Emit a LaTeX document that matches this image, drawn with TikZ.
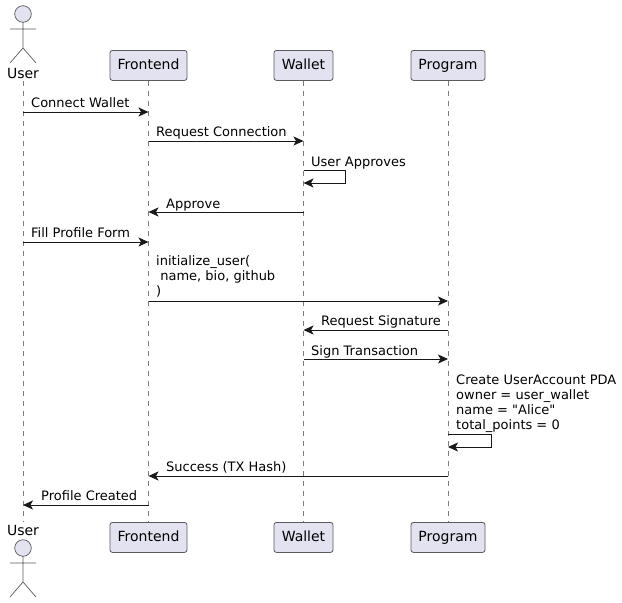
\documentclass[tikz,border=0pt]{standalone}
\usepackage{fontspec}
\setmainfont[Ligatures=TeXOff]{DejaVu Sans}
\usetikzlibrary{arrows.meta, positioning, calc, backgrounds}
\definecolor{seqFill}{HTML}{E2E2F0}
\definecolor{seqLine}{HTML}{181818}
\definecolor{seqEdge}{HTML}{5A5A60}

\begin{document}
\begin{tikzpicture}[
  x=1pt, y=-1pt, font=\fontsize{13}{15}\selectfont, text=black,
  part/.style={draw=seqEdge, line width=0.8pt, fill=seqFill, rounded corners=2.5pt, minimum height=30pt,
               inner sep=0pt, anchor=north, align=center, text height=8.5pt, text depth=1pt,
               font=\fontsize{14}{16}\selectfont},
  who/.style={inner sep=0pt, text height=10pt, text depth=0pt, anchor=base,
              font=\fontsize{14}{16}\selectfont},
  life/.style={draw=seqEdge!80, line width=0.5pt, dash pattern=on 5pt off 5pt},
  arr/.style={-{Stealth[length=10pt,width=9pt,inset=2.5pt]}, draw=seqLine, line width=0.9pt},
  lbl/.style={inner sep=0pt, anchor=base west, align=left},
  actor/.pic={
    \draw[draw=seqEdge, fill=seqFill, line width=0.7pt] (0,0) circle (8.3pt);
    \draw[draw=seqEdge, line width=0.7pt] (0,8) -- (0,34) (-13,15) -- (13,15)
      (-13,49) -- (0,34) -- (13,49);
  },
]
\useasboundingbox (0,0) rectangle (622,603);

% participants
\node[who] (user) at (23,78) {User};
\node[part, minimum width=77pt] (front) at (148.5,50) {Frontend};
\node[part, minimum width=59pt] (wallet) at (303.5,50) {Wallet};
\node[part, minimum width=74pt] (program) at (448,50) {Program};
\node[who] (userB) at (23,535) {User};
\node[part, minimum width=77pt] (frontB) at (148.5,522) {Frontend};
\node[part, minimum width=59pt] (walletB) at (303.5,522) {Wallet};
\node[part, minimum width=74pt] (programB) at (448,522) {Program};
\pic at (23,14) {actor};
\pic at (23,548) {actor};

\begin{scope}[on background layer]
\draw[life] ($(user.south)+(0,3)$) -- ($(userB.north)+(0,-3)$);
\draw[life] (front) -- (frontB);
\draw[life] (wallet) -- (walletB);
\draw[life] (program) -- (programB);
\end{scope}

% messages
\draw[arr] (user |- 0,112) -- (front |- 0,112);
\node[lbl] (m1) at (31,107) {Connect Wallet};
\draw[arr] (front |- 0,141) -- (wallet |- 0,141);
\node[lbl] (m2) at (156,136) {Request Connection};
\draw[arr] (wallet |- 0,170) -- ++(42,0) |- (wallet |- 0,183);
\node[lbl] (m3) at (311,166) {User Approves};
\draw[arr] (wallet |- 0,212) -- (front |- 0,212);
\node[lbl] (m4) at (166,208) {Approve};
\draw[arr] (user |- 0,242) -- (front |- 0,242);
\node[lbl] (m5) at (31,237) {Fill Profile Form};
\draw[arr] (front |- 0,301) -- (program |- 0,301);
\node[lbl, anchor=north west] (m6) at (156,255) {initialize\_user(\\\ name, bio, github\\)};
\draw[arr] (program |- 0,330) -- (wallet |- 0,330);
\node[lbl] (m7) at (321,325) {Request Signature};
\draw[arr] (wallet |- 0,359) -- (program |- 0,359);
\node[lbl] (m8) at (311,355) {Sign Transaction};
\draw[arr] (program |- 0,434) -- ++(43,0) |- (program |- 0,447);
\node[lbl, anchor=north west] (m9) at (456,374.5) {Create UserAccount PDA\\owner = user\_wallet\\name = "Alice"\\total\_points = 0};
\draw[arr] (program |- 0,476) -- (front |- 0,476);
\node[lbl] (m10) at (166,471) {Success (TX Hash)};
\draw[arr] (front |- 0,505) -- (user |- 0,505);
\node[lbl] (m11) at (41,500) {Profile Created};
\end{tikzpicture}
\end{document}
